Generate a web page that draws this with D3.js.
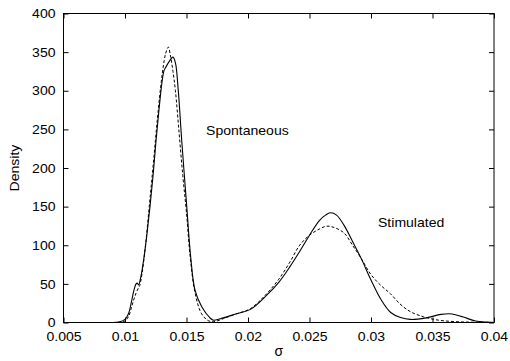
<!DOCTYPE html>
<html>
<head>
<meta charset="utf-8">
<script src="https://cdn.jsdelivr.net/npm/d3@7"></script>
<style>
  html, body { margin: 0; padding: 0; background: #fff; }
  svg { display: block; }
  text { font-family: "Liberation Sans", Arial, Helvetica, sans-serif; fill: #000; }
</style>
</head>
<body>
<svg id="chart" width="510" height="361"></svg>
<script>
// Kernel density estimates of sigma (solid = estimate, dashed = fitted)
const sigmaSolid = [0.0088, 0.0095, 0.0100, 0.0103, 0.0105, 0.0107, 0.0109, 0.0110, 0.0111,
  0.0113, 0.01155, 0.01179, 0.01203, 0.01228, 0.01252, 0.01276, 0.0130, 0.01317, 0.0133, 0.0136,
  0.0139, 0.0141, 0.01433, 0.01461, 0.01502, 0.01534, 0.01569, 0.01624, 0.01691, 0.0172, 0.0180,
  0.0190, 0.0202, 0.0215, 0.0225, 0.0234, 0.0242, 0.0250, 0.0258, 0.0263, 0.0267, 0.0272, 0.0278,
  0.0285, 0.0292, 0.0300, 0.0308, 0.0316, 0.0324, 0.0332, 0.0345, 0.0357, 0.0366, 0.0375, 0.0385,
  0.0395, 0.0400];
const densitySolid = [0, 0.5, 4, 12, 25, 40, 50, 51, 48.5,
  60, 85, 115, 150, 190, 235, 275, 310, 326, 330, 338,
  343.5, 336, 300.5, 236, 150, 85, 42, 20.4, 6, 3, 6,
  11, 17, 35, 52, 72, 92, 113, 132, 139, 142, 139, 126,
  105, 83, 55, 30, 13, 6.5, 4, 6, 10.5, 11, 7, 2,
  0.5, 0];

const sigmaDashed = [0.0090, 0.0097, 0.0100, 0.0103, 0.0105, 0.0107, 0.0109, 0.0111, 0.0112,
  0.0114, 0.0117, 0.0120, 0.0123, 0.0126, 0.0129, 0.0131, 0.0133, 0.01352, 0.0137, 0.0139, 0.0141,
  0.0144, 0.0147, 0.0150, 0.0153, 0.0157, 0.0162, 0.0167, 0.0172, 0.0180, 0.0190, 0.0202, 0.0215,
  0.0225, 0.0234, 0.0242, 0.0250, 0.0258, 0.0264, 0.0270, 0.0278, 0.0285, 0.0292, 0.0300, 0.0308,
  0.03155, 0.03236, 0.0332, 0.03425, 0.0355, 0.0370, 0.0385, 0.0400];
const densityDashed = [0, 0.5, 2, 8, 18, 29, 38, 45, 48,
  65, 105, 155, 205, 258, 305, 330, 348, 356.5, 345, 325, 300,
  245, 190, 142, 85, 38, 12, 3, 1, 5, 11, 18, 37,
  56, 78, 100, 113, 121, 124.7, 123, 116, 100, 83, 62, 48,
  37.7, 24, 14, 7.5, 3, 1, 0.3, 0];

const xTicks = [0.005, 0.01, 0.015, 0.02, 0.025, 0.03, 0.035, 0.04];
const yTicks = [0, 50, 100, 150, 200, 250, 300, 350, 400];

const annotations = [
  { text: "Spontaneous", sigma: 0.01659, density: 243 },
  { text: "Stimulated", sigma: 0.03057, density: 123 }
];

const svg = d3.select("#chart");
const margin = { left: 63.5, right: 16, top: 13.5, bottom: 38.5 };
const W = 510, H = 361;
const fontSize = 13;
const widen = 1.08; // slightly wide lettering

const x = d3.scaleLinear().domain([0.005, 0.04]).range([margin.left, W - margin.right]);
const y = d3.scaleLinear().domain([0, 400]).range([H - margin.bottom, margin.top]);

const tickLen = 5;
const fmt = d => String(d);

// Bottom axis with ticks pointing into the plot
const gx = svg.append("g").attr("transform", `translate(0,${y(0)})`)
  .call(d3.axisBottom(x).tickValues(xTicks).tickFormat(fmt).tickSizeInner(-tickLen).tickSizeOuter(0).tickPadding(9));
// Top axis mirror ticks
const gxt = svg.append("g").attr("transform", `translate(0,${y(400)})`)
  .call(d3.axisTop(x).tickValues(xTicks).tickFormat("").tickSizeInner(-tickLen).tickSizeOuter(0));
// Left axis
const gy = svg.append("g").attr("transform", `translate(${x(0.005)},0)`)
  .call(d3.axisLeft(y).tickValues(yTicks).tickFormat(fmt).tickSizeInner(-tickLen).tickSizeOuter(0).tickPadding(8));
// Right axis mirror ticks
const gyr = svg.append("g").attr("transform", `translate(${x(0.04)},0)`)
  .call(d3.axisRight(y).tickValues(yTicks).tickFormat("").tickSizeInner(-tickLen).tickSizeOuter(0));

[gx, gxt, gy, gyr].forEach(g => {
  g.select(".domain").remove();
  g.selectAll("line").attr("stroke", "#000").attr("stroke-width", 1);
  g.selectAll("text").attr("font-size", fontSize).attr("fill", "#000")
    .style("font-family", '"Liberation Sans", Arial, sans-serif');
});
gx.selectAll("text").attr("transform", `scale(${widen},1)`);
gy.selectAll("text").each(function () {
  const t = d3.select(this);
  const tx = +t.attr("x");
  t.attr("x", tx / widen).attr("transform", `scale(${widen},1)`);
});

// Plot box
svg.append("rect")
  .attr("x", x(0.005)).attr("y", y(400))
  .attr("width", x(0.04) - x(0.005)).attr("height", y(0) - y(400))
  .attr("fill", "none").attr("stroke", "#000").attr("stroke-width", 1);

const line = d3.line()
  .x(d => x(d[0])).y(d => y(Math.max(0, d[1])))
  .curve(d3.curveCatmullRom.alpha(0.5));

svg.append("path")
  .datum(d3.zip(sigmaDashed, densityDashed))
  .attr("d", line)
  .attr("fill", "none").attr("stroke", "#000").attr("stroke-width", 1)
  .attr("stroke-dasharray", "3,2");

svg.append("path")
  .datum(d3.zip(sigmaSolid, densitySolid))
  .attr("d", line)
  .attr("fill", "none").attr("stroke", "#000").attr("stroke-width", 1.1);

// Curve annotations
svg.selectAll("text.ann").data(annotations).enter().append("text")
  .attr("class", "ann")
  .attr("transform", d => `translate(${x(d.sigma)},${y(d.density)}) scale(${widen},1)`)
  .attr("font-size", fontSize)
  .text(d => d.text);

// Axis titles
svg.append("text")
  .attr("x", (x(0.005) + x(0.04)) / 2).attr("y", 356)
  .attr("text-anchor", "middle").attr("font-size", 14)
  .text("σ");

svg.append("text")
  .attr("transform", `translate(19,${(y(0) + y(400)) / 2}) rotate(-90) scale(${widen},1)`)
  .attr("text-anchor", "middle").attr("font-size", fontSize)
  .text("Density");
</script>
</body>
</html>
